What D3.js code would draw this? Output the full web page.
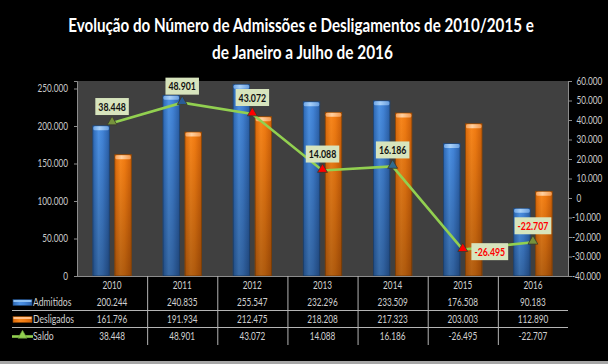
<!DOCTYPE html>
<html><head><meta charset="utf-8">
<script src="https://cdn.jsdelivr.net/npm/d3@7"></script>
<style>
html,body{margin:0;padding:0;background:#000;}
svg{display:block;}
</style></head>
<body>
<svg id="c" width="608" height="364"></svg>
<script>
const years = ["2010","2011","2012","2013","2014","2015","2016"];
const admitidos = [200244,240835,255547,232296,233509,176508,90183];
const desligados = [161796,191934,212475,218208,217323,203003,112890];
const saldo = [38448,48901,43072,14088,16186,-26495,-22707];
const leftTicks = [0,50000,100000,150000,200000,250000];
const rightTicks = [-40000,-30000,-20000,-10000,0,10000,20000,30000,40000,50000,60000];
const titleLines = ["Evolução do Número de Admissões e Desligamentos de 2010/2015 e","de Janeiro a Julho de 2016"];
const seriesNames = ["Admitidos","Desligados","Saldo"];
// styles
const markerColors = ["#76923C","#2A5C95","#FF0000","#FF0000","#2F6A8E","#FF0000","#76923C"];
const labelSide = ["above","above","above","above","above","right","above"];

const FONT = "Lato,'Open Sans',sans-serif";
const loc = d3.formatLocale({decimal:",",thousands:".",grouping:[3],currency:["R$",""],minus:"-"});
const fmt = loc.format(",d");

const svg = d3.select("#c");
svg.append("rect").attr("width",608).attr("height",364).attr("fill","#000");
svg.append("rect").attr("x",0).attr("y",361).attr("width",608).attr("height",3).attr("fill","#a6a6a6");

// measure helper to emulate a narrow (Calibri-like) face
function measure(str, size, weight){
  const t = svg.append("text").attr("font-family",FONT).attr("font-size",size+"px").attr("font-weight",weight).text(str);
  const l = t.node().getComputedTextLength(); t.remove(); return l;
}
const FS = 10.5, LFS = 12;
const kReg = 30.5 / measure("250.000", FS, "normal");
const kBold = 27.5 / measure("38.448", LFS, "bold");
function narrow(sel, k){
  sel.each(function(){
    const l = this.getComputedTextLength();
    d3.select(this).attr("textLength", l*k).attr("lengthAdjust","spacingAndGlyphs");
  });
}

const L=77,R=568,T=81,B=276;
const x = d3.scaleBand().domain(years).range([L,R]);
const bw = x.bandwidth();
const xs = d3.scaleBand().domain(["a","d"]).range([0,bw]).paddingInner(0.25).paddingOuter(0.72);
const yL = d3.scaleLinear().domain([0,260000]).range([B,T]);
const yR = d3.scaleLinear().domain([-40000,60000]).range([B,T]);

// defs
const defs = svg.append("defs");
function hgrad(id, stops){
  const g = defs.append("linearGradient").attr("id",id).attr("x1",0).attr("x2",1).attr("y1",0).attr("y2",0);
  stops.forEach(s=>g.append("stop").attr("offset",s[0]).attr("stop-color",s[1]));
}
hgrad("gBlue",[[0,"#2D68B4"],[0.35,"#4D92E4"],[0.6,"#4284D8"],[1,"#2B60A8"]]);
hgrad("gOrange",[[0,"#DB690A"],[0.35,"#F9871C"],[0.6,"#F27C12"],[1,"#CE6008"]]);
hgrad("gBlueCap",[[0,"#6FA6E6"],[0.4,"#A8D0F8"],[1,"#6A9FDF"]]);
hgrad("gOrangeCap",[[0,"#F7A25A"],[0.4,"#FFD0A0"],[1,"#F39A50"]]);
const vg = defs.append("linearGradient").attr("id","gShade").attr("x1",0).attr("x2",0).attr("y1",0).attr("y2",1);
vg.append("stop").attr("offset",0).attr("stop-color","#000").attr("stop-opacity",0);
vg.append("stop").attr("offset",1).attr("stop-color","#000").attr("stop-opacity",0.28);

// plot area
svg.append("rect").attr("x",L).attr("y",T).attr("width",R-L).attr("height",B-T).attr("fill","#404040");

// title (scaled horizontally to emulate a condensed face)
const titleTargets = [{cx:301,y:32,w:466},{cx:302.5,y:59,w:181}];
titleLines.forEach((s,i)=>{
  const nat = measure(s,19,"bold");
  const sx = titleTargets[i].w / nat;
  svg.append("text").attr("class","title")
    .attr("transform",`translate(${titleTargets[i].cx},${titleTargets[i].y}) scale(${sx},1)`)
    .attr("text-anchor","middle")
    .attr("fill","#fff").attr("font-family",FONT).attr("font-weight","bold").attr("font-size","19px")
    .text(s);
});

// bars
function drawBars(vals, key, fill, cap, stroke){
  const g = svg.append("g");
  vals.forEach((v,i)=>{
    const bx = x(years[i]) + xs(key), by = yL(v), h = B - yL(v), w = xs.bandwidth();
    g.append("rect").attr("x",bx).attr("y",by).attr("width",w).attr("height",h)
      .attr("fill",`url(#${fill})`).attr("stroke",stroke).attr("stroke-width",0.8);
    g.append("rect").attr("x",bx).attr("y",by).attr("width",w).attr("height",h)
      .attr("fill","url(#gShade)");
    g.append("rect").attr("x",bx+0.5).attr("y",by+0.5).attr("width",w-1).attr("height",4)
      .attr("rx",1.5).attr("fill",`url(#${cap})`);
  });
}
drawBars(admitidos,"a","gBlue","gBlueCap","#1E4678");
drawBars(desligados,"d","gOrange","gOrangeCap","#8C4606");

// axes
const axColor = "#8c8c8c";
const gl = svg.append("g").attr("transform",`translate(${L},0)`)
  .call(d3.axisLeft(yL).tickValues(leftTicks).tickFormat(fmt).tickSize(3).tickPadding(6));
const gr = svg.append("g").attr("transform",`translate(${R},0)`)
  .call(d3.axisRight(yR).tickValues(rightTicks).tickFormat(fmt).tickSize(4).tickPadding(4.5));
[gl,gr].forEach(g=>{
  g.select(".domain").attr("stroke",axColor);
  g.selectAll(".tick line").attr("stroke",axColor);
  g.selectAll(".tick text").attr("fill","#c8c8c8").attr("font-family",FONT).attr("font-size",FS+"px");
  narrow(g.selectAll(".tick text"), kReg);
});
gr.selectAll(".tick text").attr("dx",d=> d<0 ? -4.5 : 0);
// bottom axis line
svg.append("line").attr("x1",L-2).attr("x2",R).attr("y1",B+0.5).attr("y2",B+0.5).attr("stroke",axColor);

// saldo line
const cx = d=>x(d)+bw/2;
const line = d3.line().x((d,i)=>cx(years[i])).y(d=>yR(d));
svg.append("path").datum(saldo).attr("d",line).attr("fill","none").attr("stroke","#92D050").attr("stroke-width",2.6);
const tri = d3.symbol().type(d3.symbolTriangle).size(42);
svg.selectAll("path.mk").data(saldo).enter().append("path").attr("class","mk")
  .attr("d",tri).attr("transform",(d,i)=>`translate(${cx(years[i])},${yR(d)-1})`)
  .attr("fill",(d,i)=>markerColors[i]).attr("stroke","#3a3a2a").attr("stroke-width",0.8);

// data labels
saldo.forEach((v,i)=>{
  const px = cx(years[i]), py = yR(v);
  const lx = labelSide[i]==="right" ? px+27 : px;
  const ly = labelSide[i]==="right" ? py+2 : py-16.5;
  const g = svg.append("g");
  const r = g.append("rect").attr("fill","#D7E4BD");
  const t = g.append("text").attr("x",lx).attr("y",ly+4.2).attr("text-anchor","middle")
    .attr("font-family",FONT).attr("font-weight","bold").attr("font-size",LFS+"px")
    .attr("fill", v<0 ? "#FF0000" : "#111").text(fmt(v));
  const tw = t.node().getComputedTextLength()*kBold;
  narrow(t, kBold);
  const w = tw+6, h=17;
  r.attr("x",lx-w/2).attr("y",ly-h/2).attr("width",w).attr("height",h);
});

// data table
const tColor = "#d0d0d0", lineColor="#b4b4b4";
const tbl = svg.append("g");
years.forEach((yv,i)=>{
  if(i>0) tbl.append("line").attr("x1",x(yv)+0.5).attr("x2",x(yv)+0.5).attr("y1",B).attr("y2",345).attr("stroke",lineColor);
});
[310.5,327.5].forEach(yy=>tbl.append("line").attr("x1",12).attr("x2",R).attr("y1",yy).attr("y2",yy).attr("stroke",lineColor));
const rowsY = [285,302.5,319.5,336.5];
const rowVals = [admitidos,desligados,saldo];
years.forEach((yv,i)=>{
  tbl.append("text").attr("class","tv").attr("x",cx(yv)).attr("y",rowsY[0]+3.5).attr("text-anchor","middle")
    .attr("fill",tColor).attr("font-family",FONT).attr("font-size",FS+"px").text(yv);
  rowVals.forEach((arr,k)=>{
    tbl.append("text").attr("class","tv").attr("x",cx(yv)).attr("y",rowsY[k+1]+3.5).attr("text-anchor","middle")
      .attr("fill",tColor).attr("font-family",FONT).attr("font-size",FS+"px").text(fmt(arr[i]));
  });
});
// legend keys
seriesNames.forEach((n,k)=>{
  const yy = rowsY[k+1];
  if(k<2){
    tbl.append("rect").attr("x",13).attr("y",yy-3).attr("width",19).attr("height",6)
      .attr("fill", k===0 ? "url(#gBlue)" : "url(#gOrange)").attr("stroke",k===0?"#1E4678":"#8C4606").attr("stroke-width",0.6);
    tbl.append("rect").attr("x",13.5).attr("y",yy-2.5).attr("width",18).attr("height",2)
      .attr("fill", k===0 ? "#8FC0F2" : "#FFC08A");
  } else {
    tbl.append("line").attr("x1",12).attr("x2",33).attr("y1",yy).attr("y2",yy).attr("stroke","#92D050").attr("stroke-width",2.6);
    tbl.append("path").attr("d",d3.symbol().type(d3.symbolTriangle).size(36)).attr("transform",`translate(22.5,${yy-1})`)
      .attr("fill","#92D050").attr("stroke","#6a9a3a").attr("stroke-width",0.6);
  }
  tbl.append("text").attr("class","tv").attr("x",33).attr("y",yy+3.5).attr("fill",tColor)
    .attr("font-family",FONT).attr("font-size","11px").text(n);
});
narrow(tbl.selectAll("text.tv"), kReg);
</script>
</body></html>
